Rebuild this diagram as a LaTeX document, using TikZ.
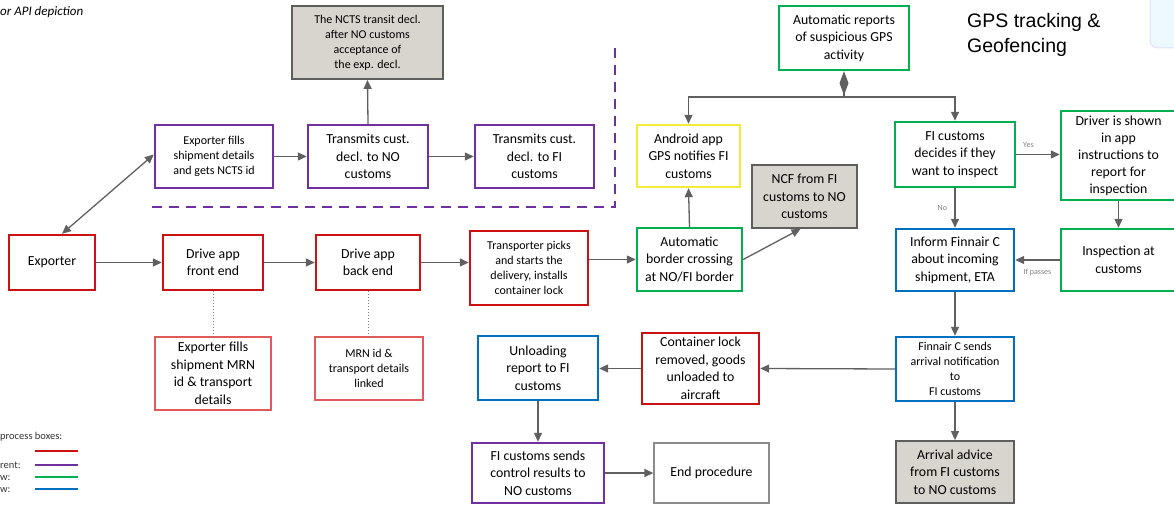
\documentclass[tikz,border=0pt]{standalone}
\usepackage{fontspec}
\setmainfont{Carlito}
\newfontfamily\arialf{Liberation Sans}
\usetikzlibrary{arrows.meta}
\definecolor{cred}{HTML}{CC1111}
\definecolor{cpur}{HTML}{7030A0}
\definecolor{cgrn}{HTML}{00B050}
\definecolor{cblu}{HTML}{0070C0}
\definecolor{cyel}{HTML}{EEEE3A}
\definecolor{cgfill}{HTML}{D8D5CF}
\definecolor{cgline}{HTML}{5E5E5E}
\definecolor{carr}{HTML}{606060}
\definecolor{clred}{HTML}{E05A5A}
\begin{document}
\begin{tikzpicture}[x=1pt,y=-1pt,
  box/.style={draw, line width=2.4pt, align=center, inner sep=1pt, fill=white, font=\fontsize{13.8}{17.5}\selectfont},
  sbox/.style={box, font=\fontsize{12}{15}\selectfont},
  sz/.style 2 args={minimum width=#1pt, minimum height=#2pt},
  redb/.style={draw=cred},
  purb/.style={draw=cpur},
  grnb/.style={draw=cgrn},
  blub/.style={draw=cblu},
  yelb/.style={draw=cyel},
  grayb/.style={draw=cgline, line width=1.8pt, fill=cgfill},
  thinred/.style={draw=clred, line width=1.4pt},
  endb/.style={draw=gray!90, line width=1.3pt},
  arr/.style={draw=carr, line width=1.3pt, -{Triangle[length=9pt,width=8pt]}},
  dbl/.style={draw=carr, line width=1.3pt, {Triangle[length=9pt,width=8pt]}-{Triangle[length=9pt,width=8pt]}},
  dotl/.style={draw=gray, line width=1pt, dotted},
  lab/.style={font=\fontsize{8}{9}\selectfont, text=gray},
  leg/.style={line width=2.4pt}
]
\useasboundingbox (0,0) rectangle (1174,505);
\clip (0,0) rectangle (1174,505);

% decorative corner shape
\draw[draw=blue!12, fill=cyan!7, rounded corners=8pt, line width=1pt] (1150,-12) rectangle (1200,48);

% title texts
\node[anchor=west, inner sep=0, font=\itshape\fontsize{13}{15}\selectfont] (title) at (0,12) {or API depiction};
\node[anchor=north west, align=left, inner sep=0, font=\arialf\fontsize{19.5}{25}\selectfont] (gps) at (967,13) {GPS tracking \&\\Geofencing};

% boxes
\node[sbox, grayb, sz={151}{73}] (ncts) at (367.5,42.5) {The NCTS transit decl.\\after NO customs\\acceptance of\\the exp. decl.};
\node[sbox, purb, sz={118}{63}] (expfill) at (214,156.5) {Exporter fills\\shipment details\\and gets NCTS id};
\node[box, purb, sz={120}{63}] (transNO) at (368,156.5) {Transmits cust.\\decl. to NO\\customs};
\node[box, purb, sz={119}{63}] (transFI) at (534.5,156.5) {Transmits cust.\\decl. to FI\\customs};
\node[box, redb, sz={86}{55}] (exporter) at (52,262.5) {Exporter};
\node[box, redb, sz={100}{55}] (front) at (213,262.5) {Drive app\\front end};
\node[box, redb, sz={104}{55}] (back) at (368,262.5) {Drive app\\back end};
\node[sbox, redb, sz={118}{74}] (transp) at (529,268) {Transporter picks\\and starts the\\delivery, installs\\container lock};
\node[box, grnb, sz={105}{63}] (border) at (689.5,259.5) {Automatic\\border crossing\\at NO/FI border};
\node[box, yelb, sz={103}{62}] (android) at (688.5,156) {Android app\\GPS notifies FI\\customs};
\node[box, grayb, sz={105}{63}] (ncf) at (804.5,196.5) {NCF from FI\\customs to NO\\customs};
\node[box, grnb, sz={130}{64}] (autorep) at (844,38) {Automatic reports\\of suspicious GPS\\activity};
\node[box, grnb, sz={115}{89}, font=\fontsize{13.8}{17}\selectfont] (driver) at (1118.5,155.5) {Driver is shown\\in app\\instructions to\\report for\\inspection};
\node[box, grnb, sz={120}{65}] (fidec) at (955,154.5) {FI customs\\decides if they\\want to inspect};
\node[box, blub, sz={118}{62}] (inform) at (955,260) {Inform Finnair C\\about incoming\\shipment, ETA};
\node[box, grnb, sz={115}{62}] (inspect) at (1118.5,260) {Inspection at\\customs};
\node[sbox, blub, sz={118}{64}] (finnair) at (955,369) {Finnair C sends\\arrival notification\\to\\FI customs};
\node[box, grayb, sz={118}{62}] (arrival) at (955,472) {Arrival advice\\from FI customs\\to NO customs};
\node[box, redb, sz={117}{71}] (container) at (700.5,368.5) {Container lock\\removed, goods\\unloaded to\\aircraft};
\node[box, blub, sz={120}{64}] (unload) at (538,368) {Unloading\\report to FI\\customs};
\node[box, purb, sz={132}{60}] (fisends) at (538,473) {FI customs sends\\control results to\\NO customs};
\node[box, endb, sz={115}{60}] (endp) at (711.5,473) {End procedure};
\node[box, thinred, sz={116}{73}] (mrn1) at (213,373.5) {Exporter fills\\shipment MRN\\id \& transport\\details};
\node[sbox, thinred, sz={108}{63}] (mrn2) at (369,368.5) {MRN id \&\\transport details\\linked};

% dashed purple boundary
\coordinate (d1) at (152,207);
\coordinate (d2) at (615,207);
\coordinate (d3) at (615,42);
\draw[draw=cpur, line width=2.4pt, dash pattern=on 10pt off 7pt] (d1) -- (d2) -- (d3);

% connectors
\draw[dbl] ([xshift=10pt]exporter.north) -- ([yshift=2pt]expfill.west);
\draw[arr] (expfill.east) -- (transNO.west);
\draw[arr] (transNO.east) -- (transFI.west);
\draw[arr] (transNO.north) -- (ncts.south);
\draw[arr] (exporter.east) -- (front.west);
\draw[arr] (front.east) -- (back.west);
\draw[arr] (back.east) -- (back.east -| transp.west);
\draw[arr] (transp.east |- border.west) -- (border.west);
\draw[arr] (border.north) -- (android.south);
\draw[arr] (border.east) -- ([xshift=-4pt]ncf.south);
\coordinate (j) at (844,97);
\draw[draw=carr, line width=1.3pt, {Diamond[length=24pt,width=9pt]}-] (autorep.south) -- (j);
\draw[arr] (j) -| (android.north);
\draw[arr] (j) -| (fidec.north);
\draw[arr] (fidec.east) -- (fidec.east -| driver.west) node[lab, pos=0.28, above=3pt] (yes) {Yes};
\draw[arr] (driver.south) -- (inspect.north);
\draw[arr] (fidec.south) -- (inform.north) node[lab, midway, left=4pt] (no) {No};
\draw[arr] (inspect.west) -- (inform.east) node[lab, midway, below=5pt] (ifp) {If passes};
\draw[arr] (inform.south) -- (finnair.north);
\draw[arr] (finnair.west) -- (container.east);
\draw[arr] (container.west) -- (container.west -| unload.east);
\draw[arr] (unload.south) -- (fisends.north);
\draw[arr] (fisends.east) -- (endp.west);
\draw[arr] (finnair.south) -- (arrival.north);
\draw[dotl] (front.south) -- (mrn1.north);
\draw[dotl] (back.south) -- (back.south |- mrn2.north);

% legend
\node[anchor=west, inner sep=0, font=\fontsize{10.5}{12}\selectfont, text=black!80] (legt) at (0,437) {process boxes:};
\node[anchor=west, inner sep=0, font=\fontsize{10.5}{12}\selectfont, text=black!80] (leg2) at (0,465) {rent:};
\node[anchor=west, inner sep=0, font=\fontsize{10.5}{12}\selectfont, text=black!80] (leg3) at (0,478) {w:};
\node[anchor=west, inner sep=0, font=\fontsize{10.5}{12}\selectfont, text=black!80] (leg4) at (0,490) {w:};
\coordinate (l1a) at (35,451); \coordinate (l1b) at (78,451);
\coordinate (l2a) at (35,465); \coordinate (l2b) at (78,465);
\coordinate (l3a) at (35,477); \coordinate (l3b) at (78,477);
\coordinate (l4a) at (35,489); \coordinate (l4b) at (78,489);
\draw[leg, cred] (l1a) -- (l1b);
\draw[leg, cpur] (l2a) -- (l2b);
\draw[leg, cgrn] (l3a) -- (l3b);
\draw[leg, cblu] (l4a) -- (l4b);
\end{tikzpicture}
\end{document}
